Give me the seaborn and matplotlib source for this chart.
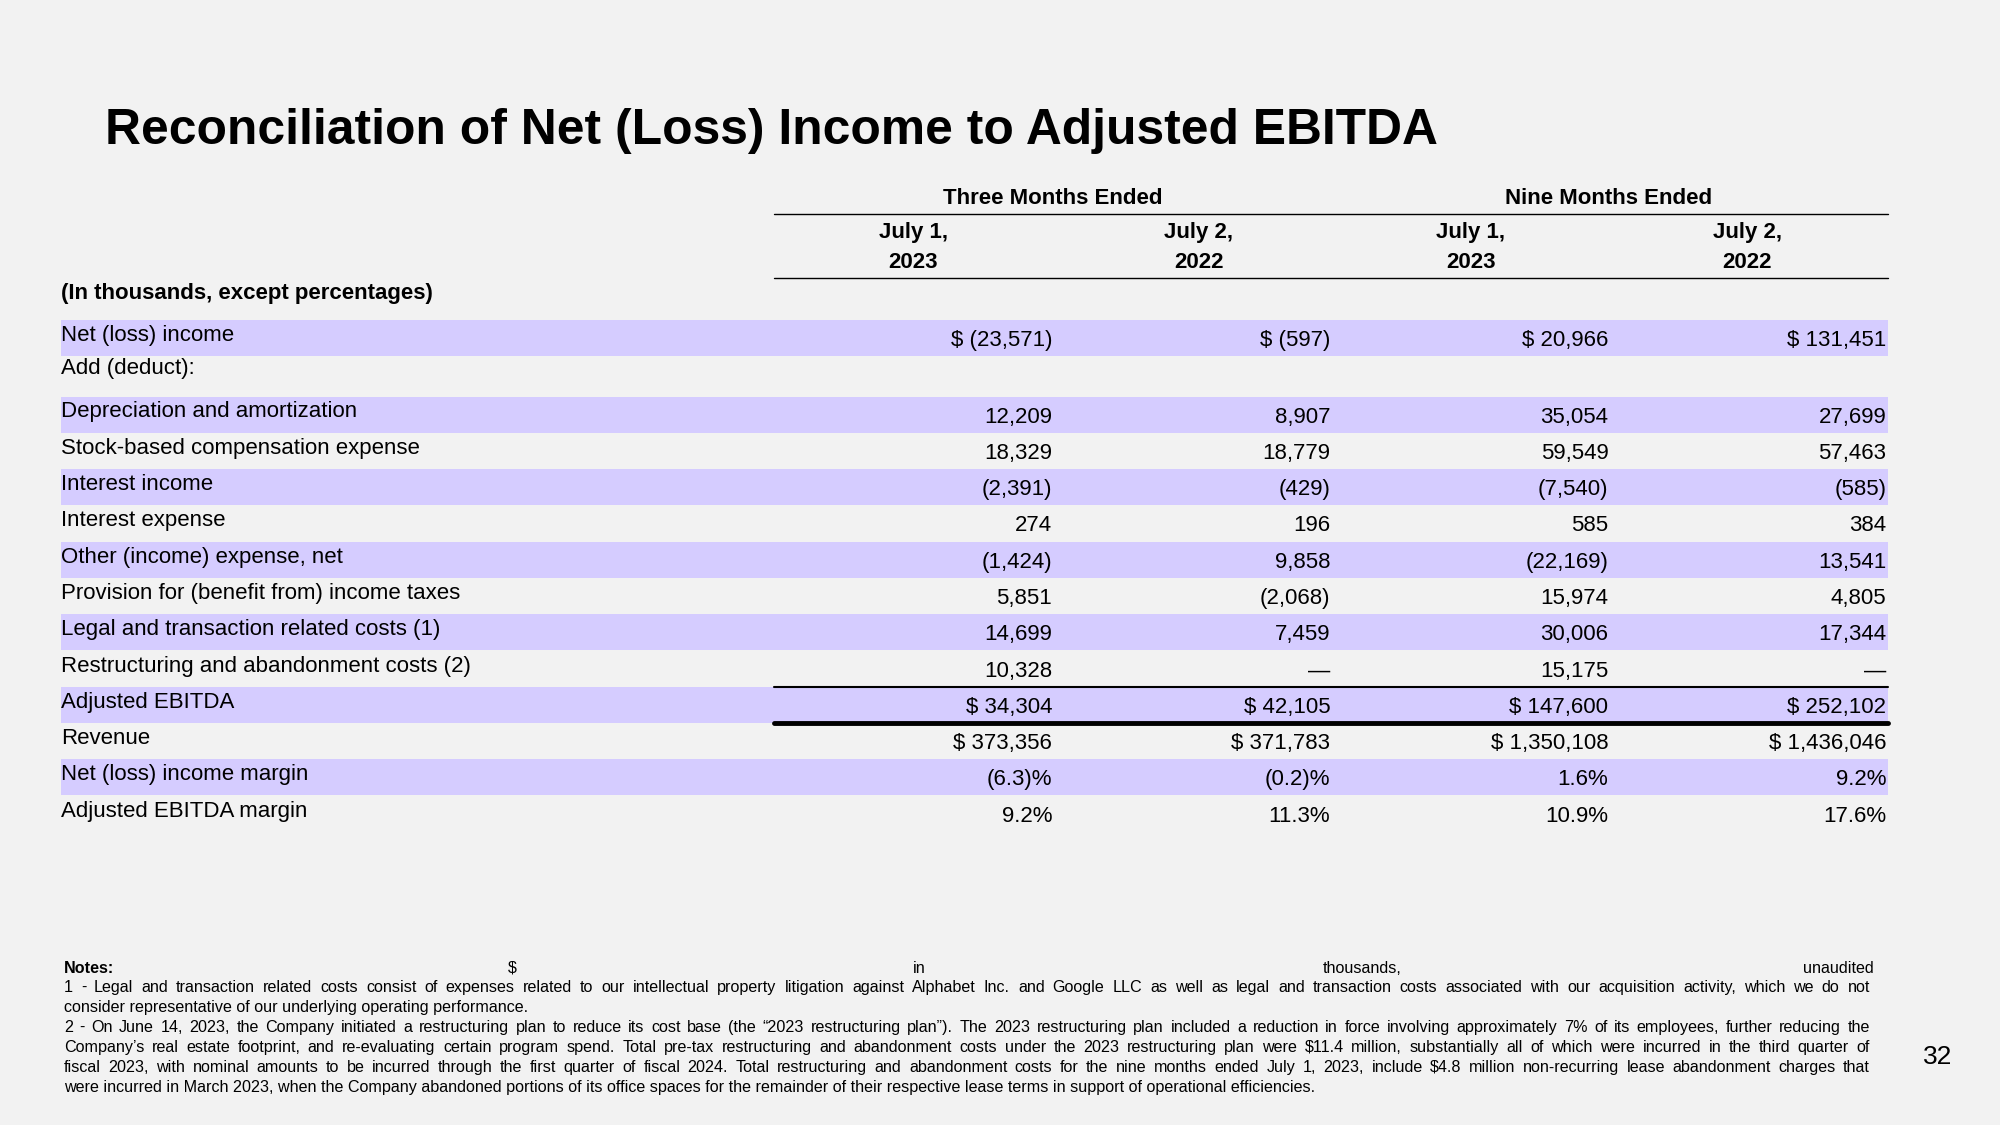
import matplotlib
matplotlib.use("Agg")
import matplotlib.pyplot as plt
import seaborn as sns

# Table data (in thousands, except percentages)
row_labels = [
    "Net (loss) income",
    "Add (deduct):",
    "Depreciation and amortization",
    "Stock-based compensation expense",
    "Interest income",
    "Interest expense",
    "Other (income) expense, net",
    "Provision for (benefit from) income taxes",
    "Legal and transaction related costs (1)",
    "Restructuring and abandonment costs (2)",
    "Adjusted EBITDA",
    "Revenue",
    "Net (loss) income margin",
    "Adjusted EBITDA margin",
]
# None = blank row, 0 = dash
three_m_2023 = [-23571, None, 12209, 18329, -2391, 274, -1424, 5851, 14699, 10328, 34304, 373356, -6.3, 9.2]
three_m_2022 = [-597, None, 8907, 18779, -429, 196, 9858, -2068, 7459, 0, 42105, 371783, -0.2, 11.3]
nine_m_2023 = [20966, None, 35054, 59549, -7540, 585, -22169, 15974, 30006, 15175, 147600, 1350108, 1.6, 10.9]
nine_m_2022 = [131451, None, 27699, 57463, -585, 384, 13541, 4805, 17344, 0, 252102, 1436046, 9.2, 17.6]

dollar_rows = ["Net (loss) income", "Adjusted EBITDA", "Revenue"]
pct_rows = ["Net (loss) income margin", "Adjusted EBITDA margin"]
shaded_rows = ["Net (loss) income", "Depreciation and amortization", "Interest income",
               "Other (income) expense, net", "Legal and transaction related costs (1)",
               "Adjusted EBITDA", "Net (loss) income margin"]

group_titles = ["Three Months Ended", "Nine Months Ended"]
col_dates = ["July 1,", "July 2,", "July 1,", "July 2,"]
col_years = ["2023", "2022", "2023", "2022"]

title = "Reconciliation of Net (Loss) Income to Adjusted EBITDA"
notes_header = ["$", "in", "thousands,", "unaudited"]
notes = [
    "1 - Legal and transaction related costs consist of expenses related to our intellectual property litigation against Alphabet Inc. and Google LLC as well as legal and transaction costs associated with our acquisition activity, which we do not",
    "consider representative of our underlying operating performance.",
    "2 - On June 14, 2023, the Company initiated a restructuring plan to reduce its cost base (the \u201c2023 restructuring plan\u201d). The 2023 restructuring plan included a reduction in force involving approximately 7% of its employees, further reducing the",
    "Company\u2019s real estate footprint, and re-evaluating certain program spend. Total pre-tax restructuring and abandonment costs under the 2023 restructuring plan were $11.4 million, substantially all of which were incurred in the third quarter of",
    "fiscal 2023, with nominal amounts to be incurred through the first quarter of fiscal 2024. Total restructuring and abandonment costs for the nine months ended July 1, 2023, include $4.8 million non-recurring lease abandonment charges that",
    "were incurred in March 2023, when the Company abandoned portions of its office spaces for the remainder of their respective lease terms in support of operational efficiencies.",
]
justified = [True, False, True, True, True, False]


def fmt(label, v):
    if v is None:
        return ""
    if label in pct_rows:
        return f"({abs(v):.1f})%" if v < 0 else f"{v:.1f}%"
    if v == 0:
        return "\u2014"
    s = f"({abs(v):,.0f})" if v < 0 else f"{v:,.0f}"
    if label in dollar_rows:
        s = "$ " + s
    return s


sns.set_theme(style="white")
plt.rcParams["font.family"] = ["Liberation Sans", "DejaVu Sans"]
plt.rcParams["text.color"] = "black"

bg = "#F2F2F2"
band = "#D5CCFF"
fs = 16

fig = plt.figure(figsize=(20, 11.25), dpi=100, facecolor=bg)
ax = fig.add_axes([0, 0, 1, 1])
ax.set_facecolor(bg)
ax.set_xlim(0, 1568)
ax.set_ylim(882, 0)
ax.axis("off")

ax.text(82, 103, title, fontsize=35.8, fontweight="bold", ha="left", va="center")

# column layout
col_right = [825, 1043, 1261, 1479]
col_center = [716, 940, 1153, 1370]
table_left, table_right, num_left = 48, 1480, 607

for g, title_g in enumerate(group_titles):
    ax.text(col_right[2 * g], 155.5, title_g, fontsize=fs, fontweight="bold", ha="center", va="center")
ax.plot([num_left, table_right], [168, 168], color="black", lw=1)
ax.plot([num_left, table_right], [218, 218], color="black", lw=1)
for x, d, yr in zip(col_center, col_dates, col_years):
    ax.text(x, 182.5, d, fontsize=fs, fontweight="bold", ha="center", va="center")
    ax.text(x, 205.5, yr, fontsize=fs, fontweight="bold", ha="center", va="center")
ax.text(48, 230, "(In thousands, except percentages)", fontsize=fs, fontweight="bold",
        ha="left", va="center")

# row positions
row_y = [265, 291] + [325 + 28.45 * i for i in range(len(row_labels) - 2)]
row_h = 28.2

cols = [three_m_2023, three_m_2022, nine_m_2023, nine_m_2022]
for i, label in enumerate(row_labels):
    y = row_y[i]
    if label in shaded_rows:
        ax.fill_between([table_left, table_right], y - row_h / 2, y + row_h / 2,
                        color=band, lw=0, zorder=0)
    ax.text(table_left, y - 2, label, fontsize=fs, ha="left", va="center")
    for xr, col in zip(col_right, cols):
        ax.text(xr, y + 2, fmt(label, col[i]), fontsize=fs, ha="right", va="center")

i_adj = row_labels.index("Adjusted EBITDA")
ax.plot([num_left, table_right], [row_y[i_adj] - row_h / 2] * 2, color="black", lw=1.5)
ax.plot([num_left, table_right], [row_y[i_adj] + row_h / 2] * 2, color="black", lw=3.5)

# notes (justified like the source slide)
note_fs = 11.6
note_left, note_right = 50, 1466
ax.text(note_left, 759, "Notes:", fontsize=note_fs, fontweight="bold", ha="left", va="center")
for x, w, ha in zip([402, 721, 1068, 1469], notes_header, ["center", "center", "center", "right"]):
    ax.text(x, 759, w, fontsize=note_fs, ha=ha, va="center")

renderer = fig.canvas.get_renderer()
px_to_data = 1568 / 2000
for k, line in enumerate(notes):
    y = 774 + 15.7 * k
    if not justified[k]:
        ax.text(note_left, y, line, fontsize=note_fs, ha="left", va="center")
        continue
    words = line.split(" ")
    arts = [ax.text(0, y, w, fontsize=note_fs, ha="left", va="center") for w in words]
    widths = [a.get_window_extent(renderer).width * px_to_data for a in arts]
    gap = (note_right - note_left - sum(widths)) / (len(words) - 1)
    x = note_left
    for a, w in zip(arts, widths):
        a.set_x(x)
        x += w + gap

ax.text(1519, 829, "32", fontsize=19, ha="center", va="center")

fig.savefig("out.png", dpi=100, facecolor=bg)
